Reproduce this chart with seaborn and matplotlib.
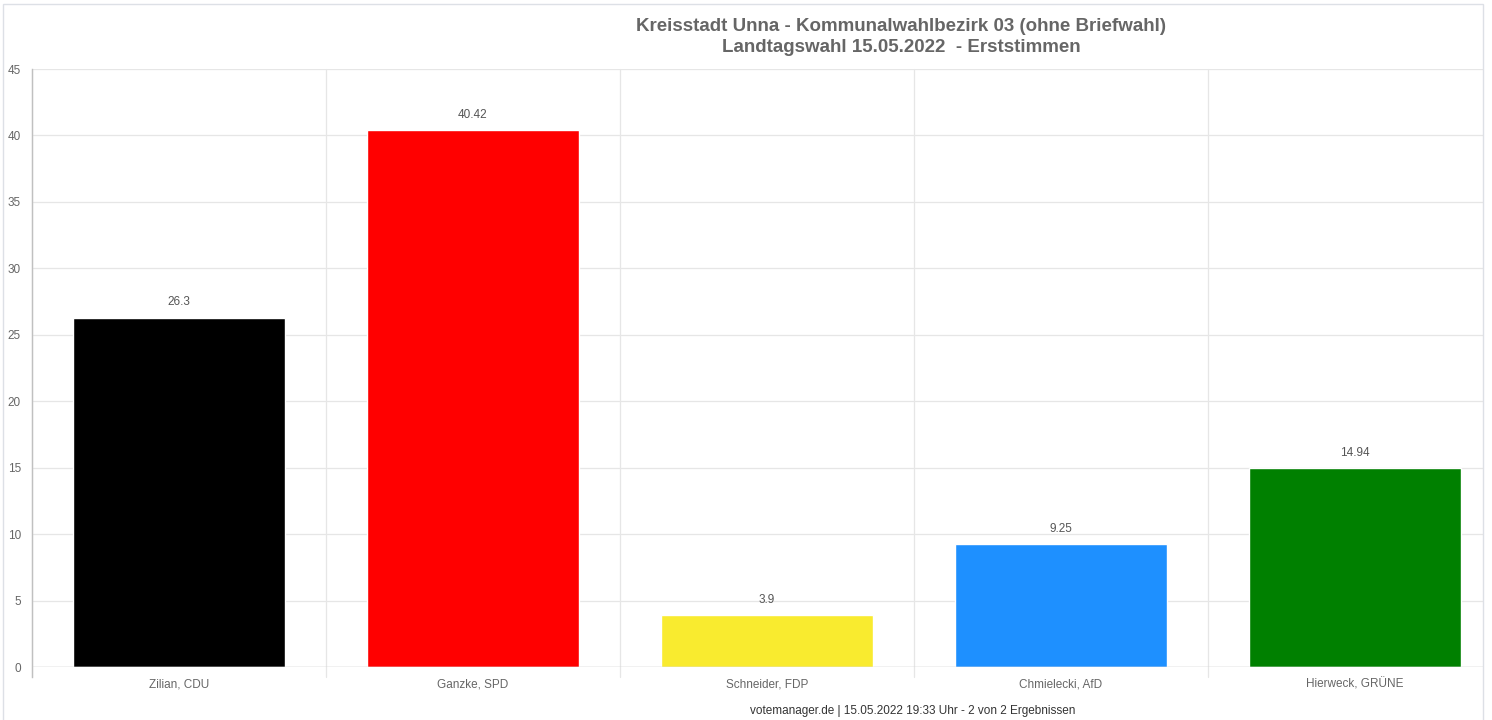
import numpy as np
import pandas as pd
import matplotlib.pyplot as plt
import seaborn as sns
from matplotlib.patches import Rectangle

kandidaten = ["Zilian, CDU", "Ganzke, SPD", "Schneider, FDP", "Chmielecki, AfD", "Hierweck, GRÜNE"]
prozent = [26.3, 40.42, 3.9, 9.25, 14.94]
farben = ["#000000", "#ff0000", "#f9eb2f", "#1e90ff", "#008000"]
y_ticks = [0, 5, 10, 15, 20, 25, 30, 35, 40, 45]

titel = "Kreisstadt Unna - Kommunalwahlbezirk 03 (ohne Briefwahl)\nLandtagswahl 15.05.2022  - Erststimmen"
fuss = "votemanager.de | 15.05.2022 19:33 Uhr - 2 von 2 Ergebnissen"

sns.set_style("white")
plt.rcParams["font.family"] = ["Liberation Sans", "DejaVu Sans"]

df = pd.DataFrame({"kandidat": kandidaten, "prozent": prozent})

W, H = 1492, 720
fig = plt.figure(figsize=(W / 100, H / 100), dpi=100)
# plot area: x from 32px to 1502px (cut off at right), y=0 at 667px, y=45 at 69px
ax = fig.add_axes([32 / W, 53 / H, 1470 / W, 598 / H])

sns.barplot(data=df, x="kandidat", y="prozent", hue="kandidat", palette=farben,
            legend=False, width=0.72, saturation=1, ax=ax)

ax.set_xlim(-0.5, 4.5)
ax.set_ylim(0, 45)
ax.set_yticks(y_ticks)
ax.set_yticklabels([str(t) for t in y_ticks], fontsize=8.5, color="#666666")
ax.tick_params(axis="y", length=5, color="#d0d0d0", pad=3)
ax.tick_params(axis="x", length=0, pad=8, labelsize=8.5, labelcolor="#666666")
ax.set_xlabel("")
ax.set_ylabel("")

# gridlines
for t in y_ticks:
    ax.axhline(t, color="#e6e6e6", lw=0.9, zorder=0)
for b in np.arange(-0.5, 5, 1.0):
    ax.plot([b, b], [-0.75, 45], color="#e6e6e6", lw=0.9, zorder=0, clip_on=False)
ax.axhline(0, color="#c8c8c8", lw=1, zorder=3)

for s in ["top", "right", "bottom"]:
    ax.spines[s].set_visible(False)
ax.spines["left"].set_color("#c0c0c0")
ax.spines["left"].set_linewidth(1)
ax.spines["left"].set_bounds(-0.75, 45)

for i, v in enumerate(prozent):
    ax.text(i, v + 0.7, f"{v:g}", ha="center", va="bottom", fontsize=8.5, color="#555555")

fig.text(901 / W, 1 - 37 / H, titel, ha="center", va="center", fontsize=13.5,
         fontweight="bold", color="#666666", linespacing=1.25)
fig.text(913 / W, 1 - 711 / H, fuss, ha="center", va="center", fontsize=8.5, color="#333333")

# cover the cut-off area right of the frame
fig.patches.append(Rectangle((1484 / W, 0), 8 / W, 1, transform=fig.transFigure,
                             facecolor="white", edgecolor="none", zorder=10))
# outer frame
fig.patches.append(Rectangle((3 / W, -0.01), 1480 / W, 1 - 4 / H + 0.01, transform=fig.transFigure,
                             fill=False, edgecolor="#dde0e6", lw=1, zorder=11))

plt.savefig("out.png", dpi=100)
